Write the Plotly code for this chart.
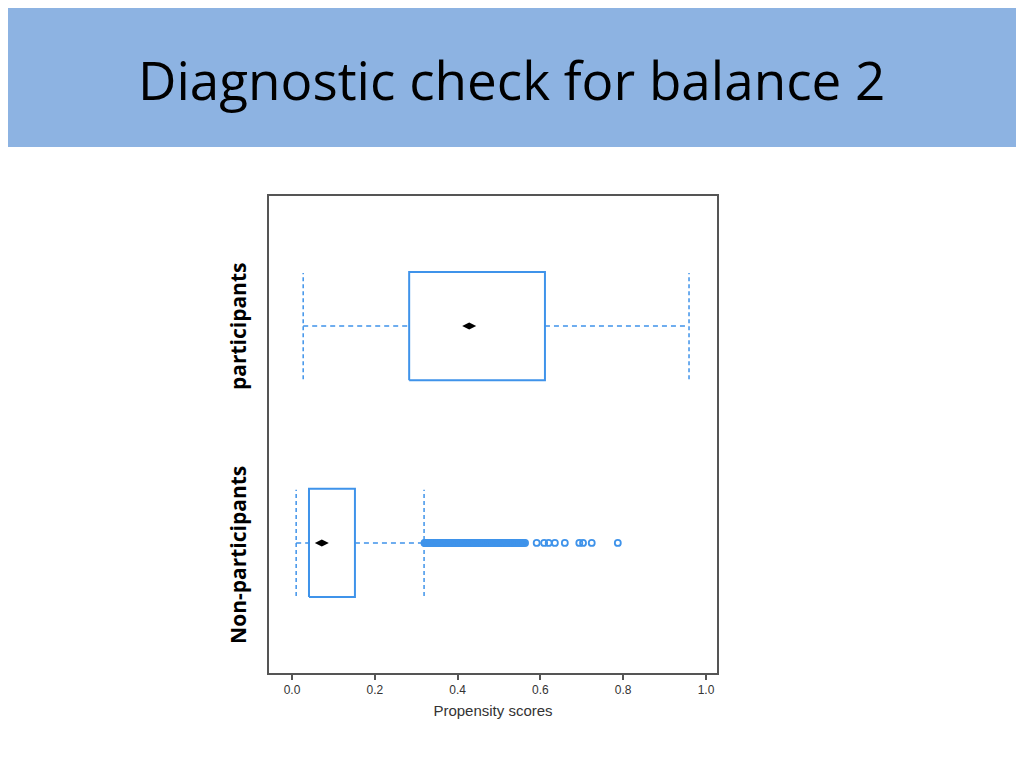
import plotly.graph_objects as go

# ---- data ----
groups = ["Non-participants", "participants"]
group_pos = [0, 1]
label_shift = [-12, 0]
q1 = [0.041, 0.283]
q3 = [0.152, 0.611]
means = [0.072, 0.428]
whisker_low = [0.010, 0.027]
whisker_high = [0.319, 0.959]
outliers_nonpart = [
    0.320, 0.322, 0.325, 0.328, 0.330, 0.333, 0.335, 0.338, 0.340, 0.343,
    0.345, 0.348, 0.350, 0.353, 0.355, 0.358, 0.360, 0.363, 0.365, 0.368,
    0.370, 0.373, 0.375, 0.378, 0.380, 0.383, 0.385, 0.388, 0.390, 0.393,
    0.395, 0.398, 0.400, 0.403, 0.405, 0.408, 0.410, 0.413, 0.415, 0.418,
    0.420, 0.423, 0.425, 0.428, 0.430, 0.433, 0.435, 0.438, 0.440, 0.443,
    0.445, 0.448, 0.450, 0.453, 0.455, 0.458, 0.460, 0.463, 0.465, 0.468,
    0.470, 0.473, 0.475, 0.478, 0.480, 0.483, 0.485, 0.488, 0.490, 0.493,
    0.495, 0.498, 0.500, 0.503, 0.505, 0.508, 0.510, 0.513, 0.515, 0.518,
    0.520, 0.523, 0.525, 0.528, 0.530, 0.533, 0.535, 0.538, 0.540, 0.543,
    0.545, 0.548, 0.550, 0.553, 0.555, 0.558, 0.560, 0.563,
    0.591, 0.609, 0.620, 0.635, 0.659, 0.694, 0.703, 0.724, 0.787,
]
x_ticks = [0.0, 0.2, 0.4, 0.6, 0.8, 1.0]
x_ticktext = ["0.0", "0.2", "0.4", "0.6", "0.8", "1.0"]

BLUE = "#3f93ea"
BOX_HALF = 0.25
CAP_HALF = 0.245

# layout geometry (figure coords; page adds 8px offset)
ML, MT, PW, PH = 261, 188, 448, 477
MR = 1024 - ML - PW
MB = 768 - MT - PH


def px_to_paper_x(px):
    return (px - ML) / PW


def px_to_paper_y(py):
    return (MT + PH - py) / PH


fig = go.Figure()

for i, g in enumerate(groups):
    y0 = group_pos[i]
    fig.add_trace(go.Scatter(
        x=[q1[i], q3[i], q3[i], q1[i], q1[i]],
        y=[y0 - BOX_HALF, y0 - BOX_HALF, y0 + BOX_HALF, y0 + BOX_HALF, y0 - BOX_HALF],
        mode="lines", line=dict(color=BLUE, width=2), showlegend=False, hoverinfo="skip"))
    fig.add_trace(go.Scatter(
        x=[whisker_low[i], q1[i], None, q3[i], whisker_high[i]],
        y=[y0, y0, None, y0, y0],
        mode="lines", line=dict(color=BLUE, width=1.5, dash="5px,4px"),
        showlegend=False, hoverinfo="skip"))
    fig.add_trace(go.Scatter(
        x=[whisker_low[i], whisker_low[i], None, whisker_high[i], whisker_high[i]],
        y=[y0 - CAP_HALF, y0 + CAP_HALF, None, y0 - CAP_HALF, y0 + CAP_HALF],
        mode="lines", line=dict(color=BLUE, width=1.5, dash="4px,3px"),
        showlegend=False, hoverinfo="skip"))
    fig.add_trace(go.Scatter(
        x=[means[i]], y=[y0], mode="markers",
        marker=dict(symbol="diamond-wide", color="black", size=10),
        showlegend=False, hoverinfo="skip"))
    fig.add_annotation(text="<b>%s</b>" % g, xref="paper", yref="y",
                       x=px_to_paper_x(230), y=y0, yshift=label_shift[i],
                       textangle=-90, showarrow=False,
                       font=dict(family="Open Sans", size=21, color="black"),
                       xanchor="center", yanchor="middle")

fig.add_trace(go.Scatter(
    x=outliers_nonpart, y=[group_pos[0]] * len(outliers_nonpart), mode="markers",
    marker=dict(symbol="circle-open", color=BLUE, size=6, line=dict(width=1.8)),
    showlegend=False, hoverinfo="skip"))

# title band
fig.add_shape(type="rect", xref="paper", yref="paper",
              x0=px_to_paper_x(0), x1=px_to_paper_x(1008),
              y0=px_to_paper_y(139), y1=px_to_paper_y(0),
              fillcolor="#8db3e2", line=dict(width=0), layer="below")
fig.add_annotation(text="Diagnostic check for balance 2", xref="paper", yref="paper",
                   x=px_to_paper_x(503), y=px_to_paper_y(71), showarrow=False,
                   font=dict(family="Open Sans", size=53, color="black"),
                   xanchor="center", yanchor="middle")

fig.update_layout(
    width=1024, height=768,
    margin=dict(l=ML, r=MR, t=MT, b=MB),
    paper_bgcolor="white", plot_bgcolor="white",
    xaxis=dict(range=[-0.0556, 1.0266], tickvals=x_ticks, ticktext=x_ticktext,
               showgrid=False, zeroline=False, showline=True, mirror=True,
               linecolor="#555555", linewidth=2, ticks="outside", ticklen=5,
               tickcolor="#555555", tickwidth=1.5,
               tickfont=dict(family="Arial", size=12, color="#333333"),
               title=dict(text="Propensity scores", standoff=9,
                          font=dict(family="Arial", size=15, color="#333333"))),
    yaxis=dict(range=[-0.6, 1.6], showticklabels=False,
               showgrid=False, zeroline=False, showline=True,
               mirror=True, linecolor="#555555", linewidth=2, ticks=""),
)

fig.write_html("out.html")
